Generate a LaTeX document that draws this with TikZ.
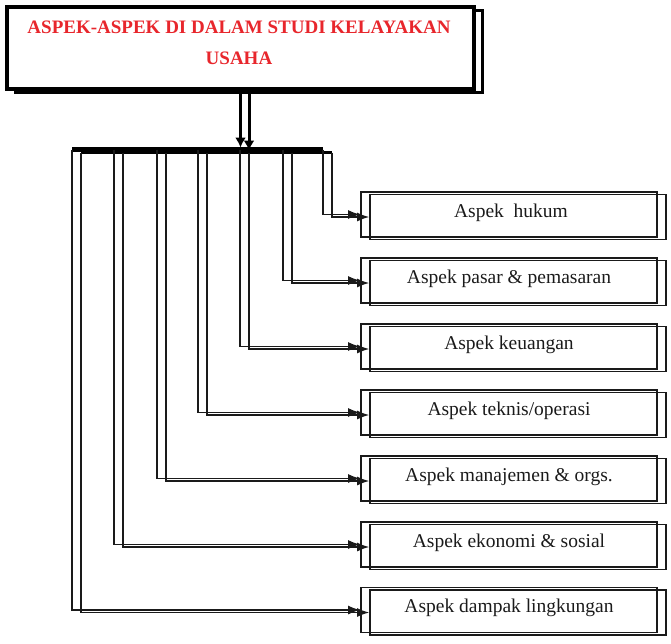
\documentclass[tikz,border=0pt]{standalone}
\usepackage{fontspec}
\setmainfont{Liberation Serif}
\usetikzlibrary{arrows.meta,calc}
\definecolor{titlered}{HTML}{E8262C}
\definecolor{ink}{HTML}{1A1A1A}
\begin{document}
\begin{tikzpicture}[x=1pt,y=-1pt,
  titlebox/.style={draw=black,line width=3.5pt,minimum width=467pt,minimum height=82pt,inner sep=0pt},
  aspbox/.style={draw=ink,line width=1.8pt,minimum width=296pt,minimum height=45pt,inner sep=0pt},
  asplabel/.style={font=\fontsize{19.5}{22}\selectfont,text=ink,inner sep=0pt},
  feed/.style={draw=ink,line width=1.2pt,-{Latex[length=12pt,width=9pt]}},
  drop/.style={line width=3pt,-{Latex[length=10pt,width=11pt]},shorten >=2pt},
  busline/.style={line width=#1},
]
\useasboundingbox (0,0) rectangle (671,643);

% heading box, drawn twice with an offset copy behind
\node[titlebox] (titleB) at (249,51.5) {};
\node[titlebox,fill=white] (titleA) at (240.5,48) {};
\node[font=\fontsize{19}{31}\selectfont\bfseries,text=titlered,align=center,inner sep=0pt]
  (title) at (239,42.5) {ASPEK-ASPEK DI DALAM STUDI KELAYAKAN\\USAHA};

% distribution bars
\coordinate (busAL) at (72,149.5);  \coordinate (busAR) at (323,149.5);
\coordinate (busBL) at (81,152.5);  \coordinate (busBR) at (332,152.5);
\draw[busline=3.5pt] (busBL) -- (busBR);
\draw[busline=5pt] (busAL) -- (busAR);

% drops from the heading onto the bars
\draw[drop] (titleA.south) -- (titleA.south |- busAL);
\draw[drop] (titleB.south) -- (titleB.south |- busBL);

% aspect boxes (front and offset copies)
\node[aspbox] (aspA1) at (509,214.5) {};  \node[aspbox] (aspB1) at (518,217) {};
\node[aspbox] (aspA2) at (509,280.5) {};  \node[aspbox] (aspB2) at (518,283) {};
\node[aspbox] (aspA3) at (509,346.5) {};  \node[aspbox] (aspB3) at (518,349) {};
\node[aspbox] (aspA4) at (509,412.5) {};  \node[aspbox] (aspB4) at (518,415) {};
\node[aspbox] (aspA5) at (509,478.5) {};  \node[aspbox] (aspB5) at (518,481) {};
\node[aspbox] (aspA6) at (509,544.5) {};  \node[aspbox] (aspB6) at (518,547) {};
\node[aspbox] (aspA7) at (509,610) {};    \node[aspbox] (aspB7) at (518,612.5) {};

% labels
\node[asplabel] (lab1) at ($(aspA1.center)+(2,-2)$) {Aspek\ \ hukum};
\node[asplabel] (lab2) at ($(aspA2.center)+(0,-2)$) {Aspek pasar \& pemasaran};
\node[asplabel] (lab3) at ($(aspA3.center)+(0,-2)$) {Aspek keuangan};
\node[asplabel] (lab4) at ($(aspA4.center)+(0,-2)$) {Aspek teknis/operasi};
\node[asplabel] (lab5) at ($(aspA5.center)+(0,-2)$) {Aspek manajemen \& orgs.};
\node[asplabel] (lab6) at ($(aspA6.center)+(0,-2)$) {Aspek ekonomi \& sosial};
\node[asplabel] (lab7) at ($(aspA7.center)+(0,-2)$) {Aspek dampak lingkungan};

% taps on the bars
\coordinate (tapA1) at (323,149.5);  \coordinate (tapB1) at (332,152.5);
\coordinate (tapA2) at (283,149.5);  \coordinate (tapB2) at (292,152.5);
\coordinate (tapA3) at (240,149.5);  \coordinate (tapB3) at (249,152.5);
\coordinate (tapA4) at (198,149.5);  \coordinate (tapB4) at (207,152.5);
\coordinate (tapA5) at (157,149.5);  \coordinate (tapB5) at (166,152.5);
\coordinate (tapA6) at (114,149.5);  \coordinate (tapB6) at (123,152.5);
\coordinate (tapA7) at (72,149.5);   \coordinate (tapB7) at (81,152.5);

% feeders from the bars to the boxes
\foreach \i in {1,...,7}{
  \draw[feed] (tapA\i) |- (aspA\i.west);
  \draw[feed] (tapB\i) |- (aspB\i.west);
}
\end{tikzpicture}
\end{document}
